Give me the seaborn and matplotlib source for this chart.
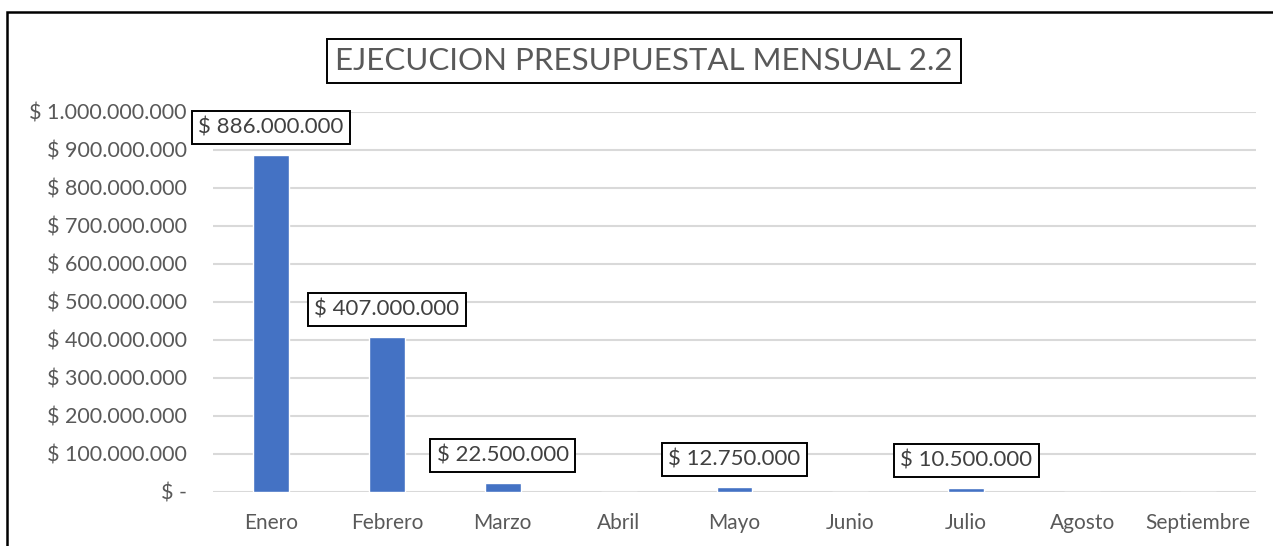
import matplotlib
matplotlib.use("Agg")
import matplotlib.pyplot as plt
import seaborn as sns
import pandas as pd
from matplotlib.patches import Rectangle
from matplotlib.ticker import FuncFormatter

# Data
meses = ["Enero", "Febrero", "Marzo", "Abril", "Mayo", "Junio", "Julio", "Agosto", "Septiembre"]
valores = [886000000, 407000000, 22500000, 0, 12750000, 0, 10500000, 0, 0]
titulo = "EJECUCION PRESUPUESTAL MENSUAL 2.2"

df = pd.DataFrame({"Mes": meses, "Valor": valores})

sns.set_style("white")
plt.rcParams["font.family"] = ["Lato", "DejaVu Sans"]

gris = "#595959"

def pesos(v, pos=None):
    if v == 0:
        return "$ -"
    return "$ " + f"{int(round(v)):,}".replace(",", ".")

fig = plt.figure(figsize=(12.73, 5.46), dpi=100)
ax = fig.add_axes([213 / 1273, 1 - 492 / 546, (1256 - 213) / 1273, (492 - 112) / 546])

sns.barplot(data=df, x="Mes", y="Valor", color="#4472C4", width=0.31, saturation=1, ax=ax, zorder=3)

ax.set_ylim(0, 1000000000)
ax.set_xlim(-0.5, len(meses) - 0.5)
ax.set_yticks(range(0, 1000000001, 100000000))
ax.yaxis.set_major_formatter(FuncFormatter(pesos))
ax.grid(axis="y", color="#d9d9d9", linewidth=1.5, zorder=0)
ax.set_xlabel("")
ax.set_ylabel("")
for s in ax.spines.values():
    s.set_visible(False)
ax.tick_params(axis="y", length=0, pad=19, labelsize=15.5, labelcolor=gris)
ax.tick_params(axis="x", length=0, pad=15, labelsize=15, labelcolor=gris)

# data labels in boxes
for i, v in enumerate(valores):
    if v > 0:
        ax.annotate(pesos(v), (i, v), xytext=(0, 20), textcoords="offset points",
                    ha="center", va="center", fontsize=16, color="#404040",
                    bbox=dict(boxstyle="square,pad=0.3", fc="white", ec="black", lw=1.4),
                    annotation_clip=False, zorder=5)

# title in box
fig.text(644 / 1273, 1 - 61 / 546, titulo, ha="center", va="center", fontsize=22.5, color=gris,
         bbox=dict(boxstyle="square,pad=0.25", fc="white", ec="black", lw=1.4))

# outer frame (cut at right and bottom like the reference)
fig.patches.append(Rectangle((7 / 1273, -0.05), 1.2, 1.05 - 12.5 / 546, transform=fig.transFigure,
                             fill=False, ec="black", lw=1.8))

fig.savefig("out.png", dpi=100)
